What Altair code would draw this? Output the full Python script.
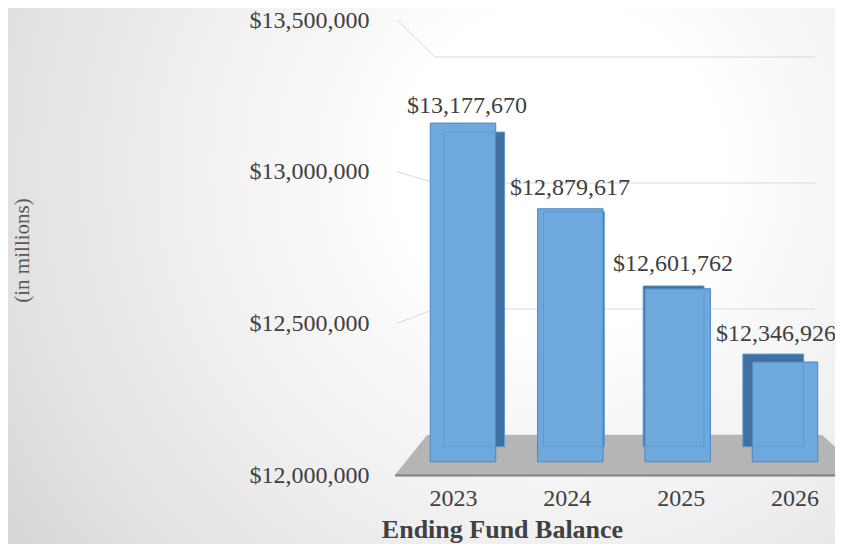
import altair as alt
import pandas as pd

# ---------------- data ----------------
years = ["2023", "2024", "2025", "2026"]
balances = [13177670, 12879617, 12601762, 12346926]
tick_values = [12000000, 12500000, 13000000, 13500000]
y_title = "(in millions)"
x_title = "Ending Fund Balance"

D0, D1 = tick_values[0], tick_values[-1]

# ---------------- geometry (plot-area pixels) ----------------
W, H = 447, 467
PAD_L, PAD_B = 380, 69
TOTAL_W, TOTAL_H = PAD_L + W, H + PAD_B

FRONT_Y = [467, 12]      # front edge of the side wall (axis labels)
BACK_Y = [427, 49]       # back wall
BAR_Y = [453.8, 22.4]    # front faces of the bars
BAR_X = [21.33, 450.67]
LAB_X = [8.08, 463.42]   # category labels on the front edge of the floor
TXT_Y = [428.2, 16.5]    # baselines of the value labels
TXT_X = [27.5, 439.5]
VP = (232, 242)          # vanishing point
DEPTH = 0.929            # back face of a bar relative to its front face


def shrink(r, c):
    return [c + (v - c) * DEPTH for v in r]


BACKBAR_X = shrink(BAR_X, VP[0])
BACKBAR_Y = shrink(BAR_Y, VP[1])

FONT = "Liberation Serif"
TEXT = "#404040"

bars = pd.DataFrame({"year": years, "balance": balances})
ticks = pd.DataFrame({"v": tick_values})
one = pd.DataFrame({"k": [0]})


def yscale(r):
    return alt.Scale(domain=[D0, D1], range=r, nice=False, zero=False)


def xband(r, pi=0.39, po=0.195):
    return alt.Scale(domain=years, range=r, paddingInner=pi, paddingOuter=po)


# ---------------- background ----------------
S = max(TOTAL_W, TOTAL_H)
cx = (560 - 8) / S
cy = (170 - 8 + (S - TOTAL_H) / 2) / S
gradient = {
    "gradient": "radial",
    "x1": cx, "y1": cy, "r1": 0,
    "x2": cx, "y2": cy, "r2": 0.9,
    "stops": [
        {"offset": 0, "color": "#ffffff"},
        {"offset": 0.22, "color": "#ffffff"},
        {"offset": 0.35, "color": "#f7f7f7"},
        {"offset": 0.5, "color": "#f0f0f0"},
        {"offset": 0.72, "color": "#e3e3e3"},
        {"offset": 0.9, "color": "#d6d6d6"},
        {"offset": 1, "color": "#d0d0d0"},
    ],
}
bg = alt.Chart(one).mark_rect(fill=gradient, strokeWidth=0).encode(
    x=alt.value(-PAD_L), x2=alt.value(W), y=alt.value(0), y2=alt.value(TOTAL_H)
)

# ---------------- walls / gridlines ----------------
kb = (BACK_Y[1] - BACK_Y[0]) / (D1 - D0)
kl = (FRONT_Y[1] - FRONT_Y[0]) / (D1 - D0)
vb_expr = f"{D0} + ({BACK_Y[0]} + (datum.v - {D0}) * {kb} - {FRONT_Y[0]}) / {kl}"

diag = (
    alt.Chart(ticks)
    .transform_calculate(vb=vb_expr)
    .mark_rule(color="#d9d9d9", strokeWidth=1)
    .encode(
        x=alt.value(9),
        x2=alt.value(47),
        y=alt.Y(
            "v:Q",
            scale=yscale(FRONT_Y),
            axis=alt.Axis(
                values=tick_values, format="$,.0f", domain=False, ticks=False,
                tickSize=0, grid=False, labelFont=FONT, labelFontSize=24,
                labelColor=TEXT, labelPadding=19, title=y_title,
                titleFont=FONT, titleFontSize=21, titleFontWeight="normal",
                titleColor="#595959", titleAngle=270, titleX=-366, titleY=242,
                titleAlign="center", titleBaseline="middle", zindex=2,
            ),
        ),
        y2="vb:Q",
    )
)

horiz = alt.Chart(ticks).mark_rule(color="#d9d9d9", strokeWidth=1).encode(
    x=alt.value(47), x2=alt.value(427),
    y=alt.Y("v:Q", scale=yscale(BACK_Y), axis=None),
)

FLOOR_PATH = "M0,0 L32,-40 L427,-40 L471,0 Z"
floor = alt.Chart(one).mark_point(
    shape=FLOOR_PATH, size=4, filled=True, fill="#b5b5b5", opacity=1, strokeWidth=0
).encode(x=alt.value(7), y=alt.value(467))

floor_edge = alt.Chart(one).mark_rule(color="#7f7f7f", strokeWidth=2).encode(
    x=alt.value(7), x2=alt.value(W), y=alt.value(467.5)
)

# ---------------- bars ----------------
back_fill = alt.Chart(bars).mark_bar(color="#41709e").encode(
    x=alt.X("year:N", scale=xband(BACKBAR_X), axis=None),
    y=alt.Y("balance:Q", scale=yscale(BACKBAR_Y), axis=None),
    y2=alt.datum(D0),
)

front = alt.Chart(bars).mark_bar(color="#6fa8dc", stroke="#4a86c4", strokeWidth=1).encode(
    x=alt.X("year:N", scale=xband(BAR_X), axis=None),
    y=alt.Y("balance:Q", scale=yscale(BAR_Y), axis=None),
    y2=alt.datum(D0),
)

back_line = alt.Chart(bars).mark_bar(
    fill="#ffffff", fillOpacity=0, stroke="#5b9bd5", strokeWidth=1
).encode(
    x=alt.X("year:N", scale=xband(BACKBAR_X), axis=None),
    y=alt.Y("balance:Q", scale=yscale(BACKBAR_Y), axis=None),
    y2=alt.datum(D0),
)

labels = alt.Chart(bars).mark_text(
    font=FONT, fontSize=24, color=TEXT, baseline="alphabetic"
).encode(
    x=alt.X("year:N", scale=xband(TXT_X, 0, 0), axis=None),
    y=alt.Y("balance:Q", scale=yscale(TXT_Y), axis=None),
    text=alt.Text("balance:Q", format="$,.0f"),
)

xaxis = alt.Chart(bars).mark_point(opacity=0).encode(
    x=alt.X(
        "year:N",
        scale=xband(LAB_X, 0, 0),
        axis=alt.Axis(
            domain=False, ticks=False, tickSize=0, grid=False, labelAngle=0,
            labelFont=FONT, labelFontSize=24, labelColor=TEXT,
            labelBaseline="middle", labelPadding=23,
            title=x_title, titleFont=FONT, titleFontSize=26,
            titleFontWeight="bold", titleColor=TEXT, titleX=114, titleY=54,
            titleAlign="center", titleBaseline="middle", zindex=2,
        ),
    ),
    y=alt.value(0),
)

chart = (
    alt.layer(bg, horiz, diag, floor, floor_edge, back_fill, front, back_line, labels, xaxis)
    .resolve_scale(x="independent", y="independent")
    .properties(
        width=W, height=H, autosize="none",
        padding={"left": PAD_L, "top": 0, "right": 0, "bottom": PAD_B},
        background="#ffffff",
    )
    .configure_view(stroke=None)
)

chart.save("out.html", embed_options={"renderer": "svg", "actions": False})
